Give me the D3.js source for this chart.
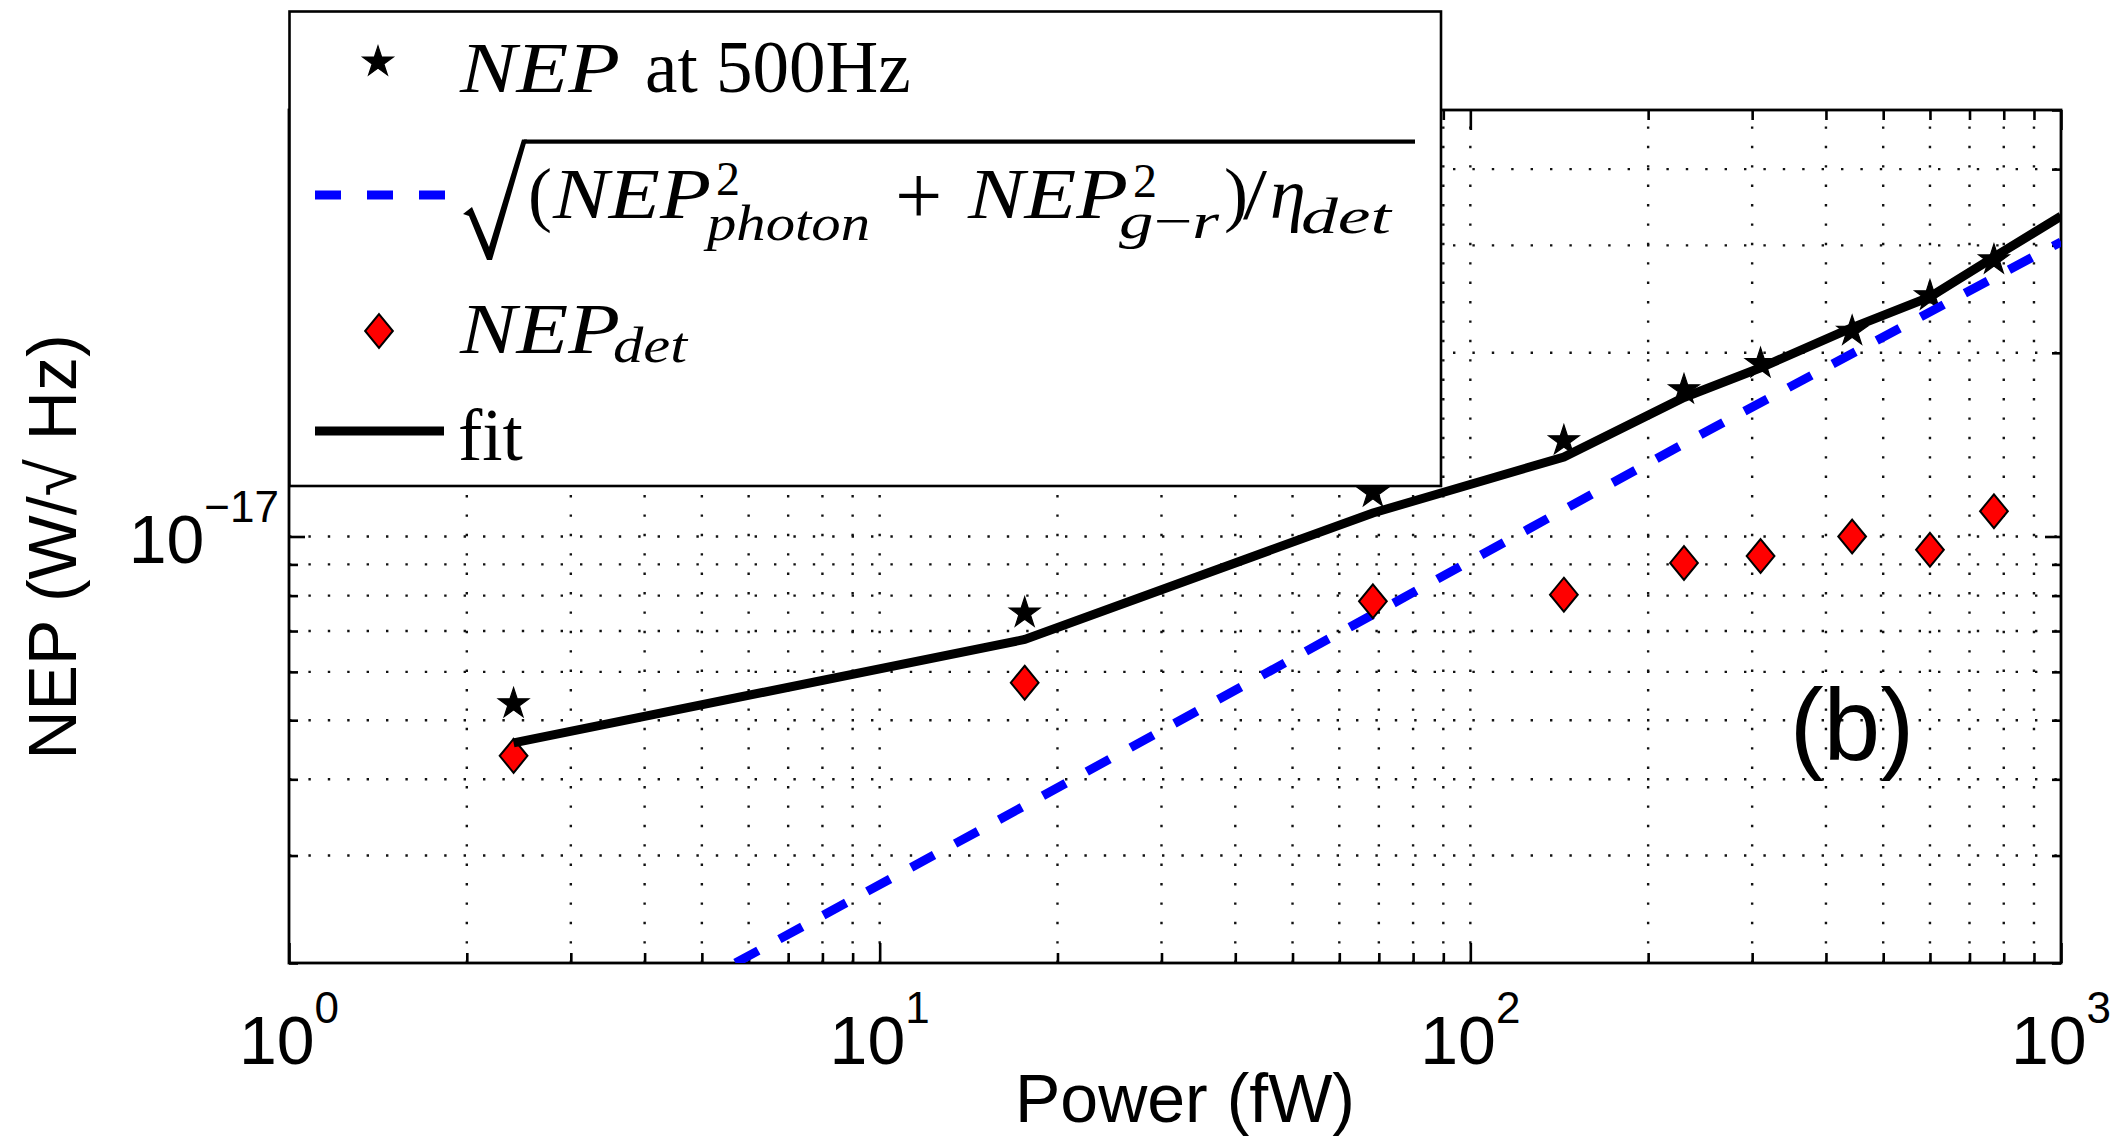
<!DOCTYPE html>
<html>
<head>
<meta charset="utf-8">
<script src="https://cdn.jsdelivr.net/npm/d3@7"></script>
<style>
  html, body { margin: 0; padding: 0; background: #fff; }
  svg { display: block; }
</style>
</head>
<body>
<svg id="chart" width="2120" height="1138"></svg>
<script>
// Measured NEP versus absorbed optical power (power in fW, NEP in W/√Hz)
const powerFW   = [2.4, 17.6, 68.4, 144, 230, 310, 443, 600, 770];
const nep500Hz  = [5.32e-18, 7.49e-18, 1.18e-17, 1.435e-17, 1.74e-17, 1.92e-17, 2.17e-17, 2.48e-17, 2.84e-17];
const nepDet    = [4.37e-18, 5.76e-18, 7.83e-18, 8.03e-18, 9.05e-18, 9.29e-18, 1.0e-17, 9.51e-18, 1.10e-17];

// Fit through the 500 Hz NEP
const fitPower  = [2.4, 17.6, 68.4, 144, 230, 310, 443, 600, 770, 1000];
const fitNep    = [4.59e-18, 6.78e-18, 1.093e-17, 1.35e-17, 1.69e-17, 1.89e-17, 2.20e-17, 2.47e-17, 2.87e-17, 3.35e-17];

// Photon + generation-recombination noise, divided by detector efficiency
const modelPower = [5.7, 17.6, 68.4, 230, 1000];
const modelNep   = [2.0e-18, 3.62e-18, 7.45e-18, 1.42e-17, 3.04e-17];

// Axes
const xDomain = [1, 1000];
const yDomain = [2e-18, 5e-17];
const xMajorTicks = [1, 10, 100, 1000];
const yMajorTicks = [1e-17];
const xTitle = "Power (fW)";
const yTitle = "NEP (W/\u221A Hz)";
const panelTag = "(b)";

// ---------------------------------------------------------------
const svg = d3.select("#chart");
const plot = { left: 289, right: 2061, top: 110, bottom: 963 };

const x = d3.scaleLog().domain(xDomain).range([plot.left, plot.right]);
const y = d3.scaleLog().domain(yDomain).range([plot.bottom, plot.top]);

const isMajor = v => Math.abs(Math.log10(v) - Math.round(Math.log10(v))) < 1e-9;
const xAll = x.ticks();
const yAll = y.ticks();
const xMinor = xAll.filter(v => !isMajor(v));
const yMinor = yAll.filter(v => !isMajor(v));

const SANS = "'Liberation Sans', Arial, Helvetica, sans-serif";
const SERIF = "'Liberation Serif', 'Times New Roman', serif";

svg.append("rect").attr("width", 2120).attr("height", 1138).attr("fill", "#fff");

svg.append("defs").append("clipPath").attr("id", "plotClip")
  .append("rect")
  .attr("x", plot.left).attr("y", plot.top)
  .attr("width", plot.right - plot.left).attr("height", plot.bottom - plot.top);

// Dotted grid at every major and minor tick
const grid = svg.append("g").attr("class", "grid")
  .attr("stroke", "#111").attr("stroke-width", 2.4)
  .attr("stroke-dasharray", "2.4,17");
grid.selectAll("line.gx")
  .data(xAll.filter(v => v > xDomain[0] && v < xDomain[1]))
  .join("line").attr("class", "gx")
  .attr("x1", d => x(d)).attr("x2", d => x(d))
  .attr("y1", plot.bottom).attr("y2", plot.top);
grid.selectAll("line.gy")
  .data(yAll.filter(v => v > yDomain[0] && v < yDomain[1]))
  .join("line").attr("class", "gy")
  .attr("x1", plot.left).attr("x2", plot.right)
  .attr("y1", d => y(d)).attr("y2", d => y(d));

// Ticks on all four sides, pointing inward
function tickLayer(axisFn, scale, values, size, transform) {
  const g = svg.append("g").attr("transform", transform)
    .call(axisFn(scale).tickValues(values).tickSize(-size).tickSizeOuter(0).tickFormat(""));
  g.select(".domain").remove();
  g.selectAll(".tick line").attr("stroke", "#000").attr("stroke-width", 2.6);
  return g;
}
tickLayer(d3.axisBottom, x, xMajorTicks, 20, `translate(0,${plot.bottom})`);
tickLayer(d3.axisBottom, x, xMinor, 10, `translate(0,${plot.bottom})`);
tickLayer(d3.axisTop, x, xMajorTicks, 20, `translate(0,${plot.top})`);
tickLayer(d3.axisTop, x, xMinor, 10, `translate(0,${plot.top})`);
tickLayer(d3.axisLeft, y, yMajorTicks, 16, `translate(${plot.left},0)`);
tickLayer(d3.axisLeft, y, yMinor, 9, `translate(${plot.left},0)`);
tickLayer(d3.axisRight, y, yMajorTicks, 16, `translate(${plot.right},0)`);
tickLayer(d3.axisRight, y, yMinor, 9, `translate(${plot.right},0)`);

// Axes box
svg.append("rect")
  .attr("x", plot.left).attr("y", plot.top)
  .attr("width", plot.right - plot.left).attr("height", plot.bottom - plot.top)
  .attr("fill", "none").attr("stroke", "#000").attr("stroke-width", 2.8);

// Power-of-ten tick labels
const xLab = svg.append("g").selectAll("text").data(xMajorTicks).join("text")
  .attr("x", d => x(d)).attr("y", 1064)
  .attr("text-anchor", "middle")
  .style("font-family", SANS).style("font-size", "68px").attr("fill", "#000");
xLab.append("tspan").text("10");
xLab.append("tspan").attr("dy", -41).style("font-size", "44px")
  .text(d => String(Math.round(Math.log10(d))).replace("-", "\u2212"));

const yLab = svg.append("g").selectAll("text").data(yMajorTicks).join("text")
  .attr("x", plot.left - 10).attr("y", d => y(d) + 26)
  .attr("text-anchor", "end")
  .style("font-family", SANS).style("font-size", "68px").attr("fill", "#000");
yLab.append("tspan").text("10");
yLab.append("tspan").attr("dy", -41).style("font-size", "44px")
  .text(d => String(Math.round(Math.log10(d))).replace("-", "\u2212"));

// Axis titles and panel tag
svg.append("text").attr("x", 1185).attr("y", 1122).attr("text-anchor", "middle")
  .style("font-family", SANS).style("font-size", "68px").text(xTitle);
svg.append("text").attr("transform", "translate(76,547) rotate(-90)").attr("text-anchor", "middle")
  .style("font-family", SANS).style("font-size", "68px").text(yTitle);
svg.append("text").attr("x", 1852).attr("y", 760).attr("text-anchor", "middle")
  .style("font-family", SANS).style("font-size", "102px").text(panelTag);

// Marker shapes
const starPath = d3.symbol().type(d3.symbolStar).size(290)();
const diamondType = {
  draw(ctx, size) {
    const h = Math.sqrt(size) * 0.64, w = h * 0.82;
    ctx.moveTo(0, -h); ctx.lineTo(w, 0); ctx.lineTo(0, h); ctx.lineTo(-w, 0); ctx.closePath();
  }
};
const diamondPath = d3.symbol().type(diamondType).size(700)();

const data = d3.zip(powerFW, nep500Hz, nepDet);
const fitData = d3.zip(fitPower, fitNep);
const modelData = d3.zip(modelPower, modelNep);
const line = d3.line().x(d => x(d[0])).y(d => y(d[1]));

const marks = svg.append("g").attr("clip-path", "url(#plotClip)");

// 1) NEP at 500 Hz (stars)
marks.append("g").selectAll("path").data(data).join("path")
  .attr("d", starPath)
  .attr("transform", d => `translate(${x(d[0])},${y(d[1])})`)
  .attr("fill", "#000").attr("stroke", "#000").attr("stroke-width", 1.2)
  .attr("stroke-linejoin", "miter");

// 2) noise model (blue dashed)
marks.append("path").datum(modelData)
  .attr("d", line).attr("fill", "none")
  .attr("stroke", "#0000ff").attr("stroke-width", 9)
  .attr("stroke-dasharray", "26,24");

// 3) detector NEP (red diamonds)
marks.append("g").selectAll("path").data(data).join("path")
  .attr("d", diamondPath)
  .attr("transform", d => `translate(${x(d[0])},${y(d[2])})`)
  .attr("fill", "#ff0000").attr("stroke", "#000").attr("stroke-width", 2);

// 4) fit (solid black)
marks.append("path").datum(fitData)
  .attr("d", line).attr("fill", "none")
  .attr("stroke", "#000").attr("stroke-width", 9)
  .attr("stroke-linejoin", "miter");

// ---------------------------------------------------------------
// Legend
const lg = svg.append("g").attr("class", "legend");
lg.append("rect").attr("x", 289.5).attr("y", 11.5).attr("width", 1151.5).attr("height", 474.5)
  .attr("fill", "#fff").attr("stroke", "#000").attr("stroke-width", 2.6);

lg.append("path").attr("d", starPath).attr("transform", "translate(378,62)")
  .attr("fill", "#000").attr("stroke", "#000").attr("stroke-width", 1.2);
lg.append("line").attr("x1", 315).attr("x2", 445).attr("y1", 195).attr("y2", 195)
  .attr("stroke", "#0000ff").attr("stroke-width", 9).attr("stroke-dasharray", "26,26");
lg.append("path").attr("d", diamondPath).attr("transform", "translate(379,331)")
  .attr("fill", "#ff0000").attr("stroke", "#000").attr("stroke-width", 2);
lg.append("line").attr("x1", 315).attr("x2", 444).attr("y1", 431).attr("y2", 431)
  .attr("stroke", "#000").attr("stroke-width", 9);

function piece(p) {
  const t = lg.append("text").attr("x", p.x).attr("y", p.y)
    .style("font-family", SERIF).style("font-size", p.size + "px")
    .style("font-style", p.it ? "italic" : "normal").attr("fill", "#000").text(p.t);
  if (p.len) t.attr("textLength", p.len).attr("lengthAdjust", "spacingAndGlyphs");
  return t;
}

// Row 1: NEP at 500Hz
piece({ t: "NEP", x: 460, y: 92, size: 72, it: true, len: 160 });
piece({ t: "at 500Hz", x: 645, y: 92, size: 73 });

// Row 2: sqrt((NEP_photon^2 + NEP_{g-r}^2)/eta_det)
lg.append("path")
  .attr("d", "M463,214 L472,207 L489,247 L522,139.5 L527,139.5 L492,260 L487,260 L469,216 Z")
  .attr("fill", "#000");
lg.append("rect").attr("x", 524).attr("y", 139.5).attr("width", 891).attr("height", 4.2).attr("fill", "#000");
piece({ t: "(", x: 528, y: 218, size: 72 });
piece({ t: "NEP", x: 553, y: 218, size: 72, it: true, len: 158 });
piece({ t: "2", x: 716, y: 195, size: 48 });
piece({ t: "photon", x: 707, y: 240, size: 50, it: true, len: 163 });
piece({ t: "+", x: 895, y: 224, size: 84 });
piece({ t: "NEP", x: 968, y: 218, size: 72, it: true, len: 160 });
piece({ t: "2", x: 1133, y: 197, size: 48 });
const gr = lg.append("text").attr("x", 1119).attr("y", 238)
  .style("font-family", SERIF).style("font-size", "50px")
  .attr("textLength", 100).attr("lengthAdjust", "spacingAndGlyphs");
gr.append("tspan").style("font-style", "italic").text("g");
gr.append("tspan").text("\u2212");
gr.append("tspan").style("font-style", "italic").text("r");
piece({ t: ")", x: 1224, y: 218, size: 72 });
piece({ t: "/", x: 1243, y: 218, size: 72, len: 24 });
piece({ t: "\u03B7", x: 1270, y: 218, size: 72, it: true });
piece({ t: "det", x: 1301, y: 233, size: 50, it: true, len: 90 });

// Row 3: NEP_det
piece({ t: "NEP", x: 460, y: 353, size: 72, it: true, len: 160 });
piece({ t: "det", x: 613, y: 362, size: 50, it: true, len: 74 });

// Row 4: fit
piece({ t: "fit", x: 458, y: 460, size: 73 });
</script>
</body>
</html>
